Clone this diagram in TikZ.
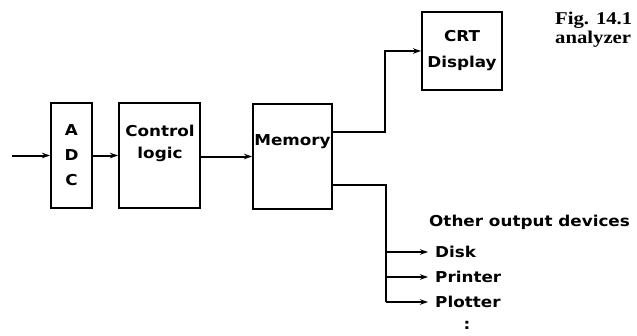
\documentclass[tikz,border=0pt]{standalone}
\usepackage{fontspec}
\usetikzlibrary{arrows.meta}
\newfontfamily\lblfont[FakeStretch=1.12]{DejaVu Sans}
\newfontfamily\capfont[FakeStretch=1.15]{Liberation Serif}
\begin{document}
\begin{tikzpicture}[x=1pt,y=-1pt,
  lbl/.style={font=\lblfont\bfseries\fontsize{15}{25}\selectfont, inner sep=0pt},
  blk/.style={draw, line width=2pt, inner sep=0pt, align=center},
  conn/.style={line width=2pt},
  arr/.style={line width=2pt, -{Stealth[length=8pt,width=5.5pt]}},
  outarr/.style={arr, shorten >=7pt},
  captext/.style={inner sep=0pt, anchor=base west, font=\capfont\bfseries\fontsize{18}{20}\selectfont}]
\useasboundingbox (0,0) rectangle (637,335);

% blocks
\node[blk, lbl, minimum width=41pt, minimum height=105pt] (adc) at (71.5,155.5) {A\\D\\C};
\node[blk, minimum width=81pt, minimum height=105pt] (ctl) at (159.5,155.5) {};
\node[lbl, align=center, anchor=north, font=\lblfont\bfseries\fontsize{15}{22}\selectfont] (ctltext) at (160,125) {Control\\logic};
\node[blk, minimum width=79pt, minimum height=105pt] (mem) at (292.5,156.5) {};
\node[lbl, anchor=base] (memtext) at (292.5,145) {Memory};
\node[blk, lbl, font=\lblfont\bfseries\fontsize{15}{26}\selectfont, minimum width=80pt, minimum height=78pt] (crt) at (462,51) {CRT\\Display};

% caption
\node[captext] (fig) at (555,24) {Fig. 14.1};
\node[captext] (analyzer) at (555,43) {analyzer};

% input and chain
\coordinate (in) at (12,155.5);
\draw[arr] (in) -- (adc.west);
\draw[arr] (adc.east) -- (ctl.west);
\draw[arr] (ctl.east |- 0,156.5) -- (mem.west);

% memory to CRT
\coordinate (m1) at (332,132);
\coordinate (c1) at (385,132);
\draw[arr] (m1) -- (c1) |- (crt.west);

% memory to other outputs
\coordinate (m2) at (332,185);
\coordinate (c2) at (386,185);
\coordinate (c3) at (386,302);
\draw[conn] (m2) -- (c2) -- (c3);

\node[lbl, anchor=base west] (other) at (429,226) {Other output devices};
\node[lbl, anchor=west] (disk) at (435,252) {Disk};
\node[lbl, anchor=west] (printer) at (435,277) {Printer};
\node[lbl, anchor=west] (plotter) at (435,302) {Plotter};
\node[lbl, anchor=base] (dots) at (467,329) {:};

\draw[outarr] (c2 |- disk.west) -- (disk.west);
\draw[outarr] (c2 |- printer.west) -- (printer.west);
\draw[outarr] (c3) -- (plotter.west);
\end{tikzpicture}
\end{document}
